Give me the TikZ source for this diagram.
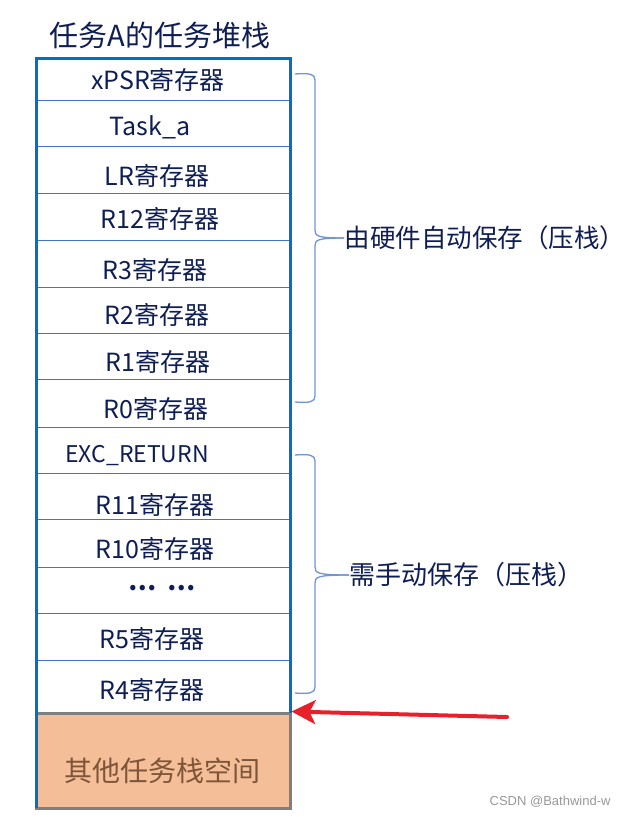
\documentclass[tikz,border=0pt]{standalone}
\usepackage{fontspec}
\setmainfont{Noto Sans CJK SC}
\newfontfamily\markfont{Liberation Sans}
\usetikzlibrary{arrows.meta}
\definecolor{boxblue}{HTML}{0070C0}
\definecolor{rowblue}{HTML}{4472C4}
\definecolor{braceblue}{HTML}{7094D4}
\definecolor{textnavy}{HTML}{0E1E55}
\definecolor{stackfill}{HTML}{F4BE98}
\definecolor{stackbrown}{HTML}{7F5539}
\definecolor{stackgray}{HTML}{7F7F7F}
\definecolor{arrowred}{HTML}{E8202A}
\begin{document}
\begin{tikzpicture}[x=1pt,y=-1pt,line width=1pt,every node/.style={font=\fontsize{25}{29}\selectfont,text=textnavy,inner sep=1pt},
  brace/.style={draw=braceblue,line width=1.3pt},
  stackbox/.style={draw=stackgray,fill=stackfill,line width=3pt,minimum width=254pt,minimum height=95pt,inner sep=0pt}]
\useasboundingbox (0,0) rectangle (626,817);
\node[stackbox] (other) at (163,760.5) {};
\node[text=stackbrown,font=\fontsize{28}{32}\selectfont] (othertext) at (162,771) {其他任务栈空间};
\foreach \y in {100,146,193,240,287,333,379,427,473,519,567,613,660}
  \draw[rowblue] (36,\y) -- (290,\y);
\draw[boxblue,line width=3pt] (36,808) -- (36,58) -- (290,58) -- (290,713);
\node[font=\fontsize{29}{33}\selectfont] (title) at (160,35) {任务A的任务堆栈};
\node (xpsr) at (158,80) {xPSR寄存器};
\node (task) at (150,127) {Task\_a};
\node (lr) at (157,176) {LR寄存器};
\node (r12) at (160,219) {R12寄存器};
\node (r3) at (155,270) {R3寄存器};
\node (r2) at (157,315) {R2寄存器};
\node (r1) at (158,362) {R1寄存器};
\node (r0) at (156,409) {R0寄存器};
\node[font=\fontsize{23}{27}\selectfont] (exc) at (137,456) {EXC\_RETURN};
\node (r11) at (155,505) {R11寄存器};
\node (r10) at (155,549) {R10寄存器};
\node (dots) at (162,588) {\textbf{…\ \ …}};
\node (r5) at (152,639) {R5寄存器};
\node (r4) at (152,690) {R4寄存器};
\node[anchor=west,inner sep=0pt,font=\fontsize{25.5}{30}\selectfont] (hw) at (344,238) {由硬件自动保存（压栈）};
\node[anchor=west,inner sep=0pt,font=\fontsize{26}{31}\selectfont] (manual) at (349,575) {需手动保存（压栈）};
\draw[brace] (295,74) .. controls (310,73) and (315,74) .. (315,80) -- (315,230) .. controls (315,236) and (317,238) .. (hw.west);
\draw[brace] (295,402) .. controls (310,403) and (315,402) .. (315,396) -- (315,246) .. controls (315,240) and (317,238) .. (hw.west);
\draw[brace] (295,455) .. controls (310,454) and (315,455) .. (315,461) -- (315,567) .. controls (315,573) and (317,575) .. (manual.west);
\draw[brace] (295,693) .. controls (310,694) and (315,693) .. (315,687) -- (315,583) .. controls (315,577) and (317,575) .. (manual.west);
\coordinate (tail) at (507,717);
\draw[arrowred,line width=4pt,line cap=round,-{Stealth[length=24pt,width=24pt,inset=6pt]}] (tail) -- (other.north east);
\node[anchor=east,text=stackgray!80,font=\markfont\fontsize{13}{15}\selectfont] (mark) at (612,802) {CSDN @Bathwind-w};
\end{tikzpicture}
\end{document}
